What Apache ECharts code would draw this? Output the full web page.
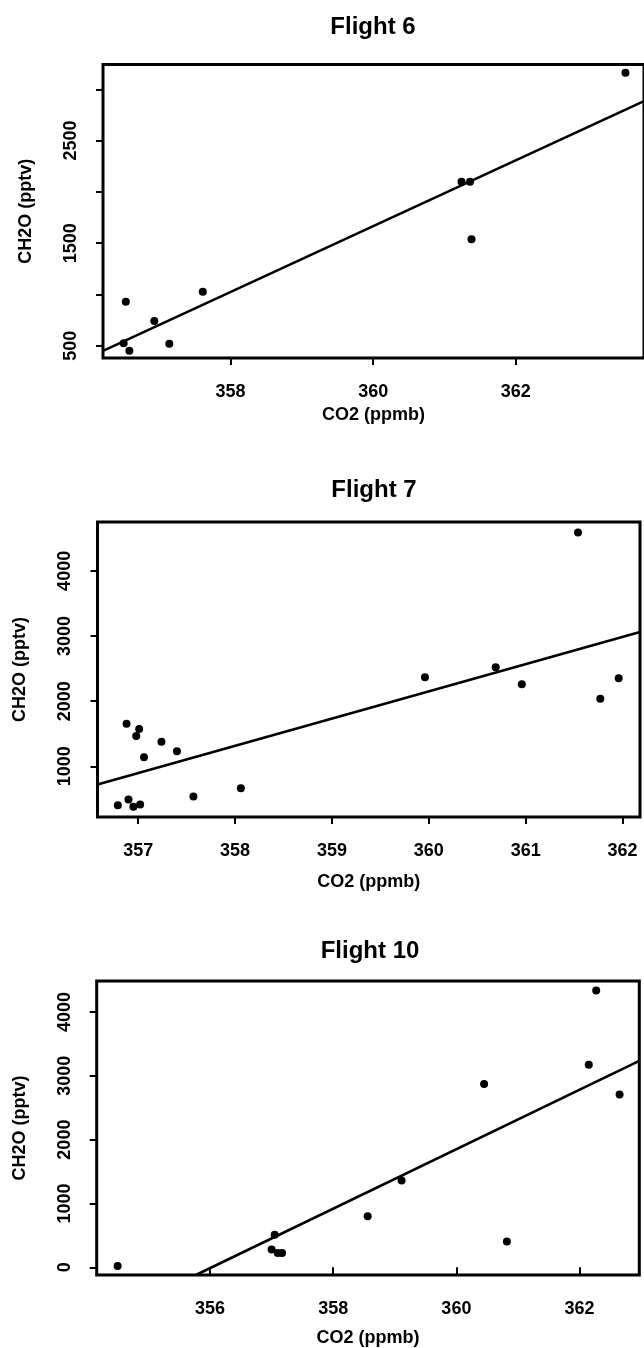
<!DOCTYPE html>
<html><head><meta charset="utf-8">
<script src="https://cdn.jsdelivr.net/npm/echarts@6/dist/echarts.min.js"></script>
<style>html,body{margin:0;padding:0;background:#fff}#c{width:644px;height:1348px}</style>
</head><body><div id="c"></div>
<script>
// ---------- data ----------
const panelTitles = ['Flight 6', 'Flight 7', 'Flight 10'];
const xAxisName = 'CO2 (ppmb)';
const yAxisName = 'CH2O (pptv)';

// Flight 6
const f6CO2  = [356.53, 356.50, 356.58, 356.93, 357.14, 357.61, 361.24, 361.36, 361.38, 363.54];
const f6CH2O = [929, 523, 451, 741, 520, 1027, 2099, 2099, 1537, 3162];
const f6FitCO2  = [356.21, 363.80];
const f6FitCH2O = [449, 2885];
const f6XTicks = [358, 360, 362];
const f6YTicks = [500, 1000, 1500, 2000, 2500, 3000];
const f6YLabels = [500, 1500, 2500];

// Flight 7
const f7CO2  = [356.88, 357.01, 356.98, 357.24, 357.40, 357.06, 356.79, 356.90, 356.95, 357.02, 357.57, 358.06, 359.96, 360.69, 360.96, 361.54, 361.77, 361.96];
const f7CH2O = [1654, 1572, 1465, 1378, 1230, 1138, 403, 490, 379, 414, 536, 663, 2368, 2521, 2261, 4588, 2036, 2353];
const f7FitCO2  = [356.58, 362.18];
const f7FitCH2O = [720, 3061];
const f7XTicks = [357, 358, 359, 360, 361, 362];
const f7YTicks = [1000, 2000, 3000, 4000];

// Flight 10
const f10CO2  = [354.50, 357.05, 357.00, 357.10, 357.17, 358.56, 359.11, 360.45, 360.82, 362.15, 362.27, 362.65];
const f10CH2O = [20, 511, 279, 226, 226, 800, 1358, 2872, 403, 3171, 4334, 2706];
const f10FitCO2  = [355.77, 362.97];
const f10FitCH2O = [-120, 3233];
const f10XTicks = [356, 358, 360, 362];
const f10YTicks = [0, 1000, 2000, 3000, 4000];

// ---------- layout ----------
const FONT = '"Liberation Sans", Arial, Helvetica, sans-serif';
const panels = [
  {grid:{left:103, top:64.5, width:545, height:293.5}, x:[356.21,363.80], y:[380,3242],
   co2:f6CO2, ch2o:f6CH2O, fx:f6FitCO2, fy:f6FitCH2O, xt:f6XTicks, yt:f6YTicks, yl:f6YLabels,
   title:{x:373, y:39}, nameGap:48},
  {grid:{left:97.5, top:522, width:542.5, height:295}, x:[356.58,362.18], y:[222,4750],
   co2:f7CO2, ch2o:f7CH2O, fx:f7FitCO2, fy:f7FitCH2O, xt:f7XTicks, yt:f7YTicks, yl:f7YTicks,
   title:{x:374, y:502}, nameGap:56},
  {grid:{left:96.7, top:981, width:542.6, height:297}, x:[354.16,362.97], y:[-120,4484],
   co2:f10CO2, ch2o:f10CH2O, fx:f10FitCO2, fy:f10FitCH2O, xt:f10XTicks, yt:f10YTicks, yl:f10YTicks,
   title:{x:370, y:963}, nameGap:54}
];

const zip = (a, b) => a.map((v, i) => [v, b[i]]);
const tickStyle = {show:true, length:7, lineStyle:{color:'#000', width:2}, inside:false};
const labStyle = {color:'#000', fontSize:18, fontWeight:'bold', fontFamily:FONT, formatter: v => String(v)};

const option = {
  animation:false,
  backgroundColor:'#fff',
  graphic: panels.map((p, i) => ({
    type:'text', x:p.title.x, y:p.title.y,
    style:{text:panelTitles[i], font:'bold 24px ' + FONT, fill:'#000', textAlign:'center', textVerticalAlign:'bottom'}
  })),
  grid: panels.map(p => Object.assign({show:true, borderColor:'#000', borderWidth:3, backgroundColor:'transparent'}, p.grid)),
  xAxis: panels.map((p, i) => ({
    type:'value', gridIndex:i, min:p.x[0], max:p.x[1],
    axisLine:{show:false}, splitLine:{show:false},
    axisTick:Object.assign({customValues:p.xt}, tickStyle),
    axisLabel:Object.assign({customValues:p.xt, margin:25}, labStyle),
    name:xAxisName, nameLocation:'middle', nameGap:p.nameGap,
    nameTextStyle:{color:'#000', fontSize:18, fontWeight:'bold', fontFamily:FONT}
  })),
  yAxis: panels.map((p, i) => ({
    type:'value', gridIndex:i, min:p.y[0], max:p.y[1],
    axisLine:{show:false}, splitLine:{show:false},
    axisTick:Object.assign({customValues:p.yt}, tickStyle),
    axisLabel:Object.assign({customValues:p.yl, margin:23, rotate:90}, labStyle),
    name:yAxisName, nameLocation:'middle', nameGap:68,
    nameTextStyle:{color:'#000', fontSize:18, fontWeight:'bold', fontFamily:FONT}
  })),
  series: panels.flatMap((p, i) => [
    {type:'scatter', xAxisIndex:i, yAxisIndex:i, data:zip(p.co2, p.ch2o),
     symbol:'circle', symbolSize:8, itemStyle:{color:'#000', opacity:1}, silent:true},
    {type:'line', xAxisIndex:i, yAxisIndex:i, data:zip(p.fx, p.fy),
     showSymbol:false, symbol:'none', clip:true, lineStyle:{color:'#000', width:2.6}, silent:true}
  ])
};

const chart = echarts.init(document.getElementById('c'), null, {renderer:'canvas'});
chart.setOption(option);
</script>
</body></html>
